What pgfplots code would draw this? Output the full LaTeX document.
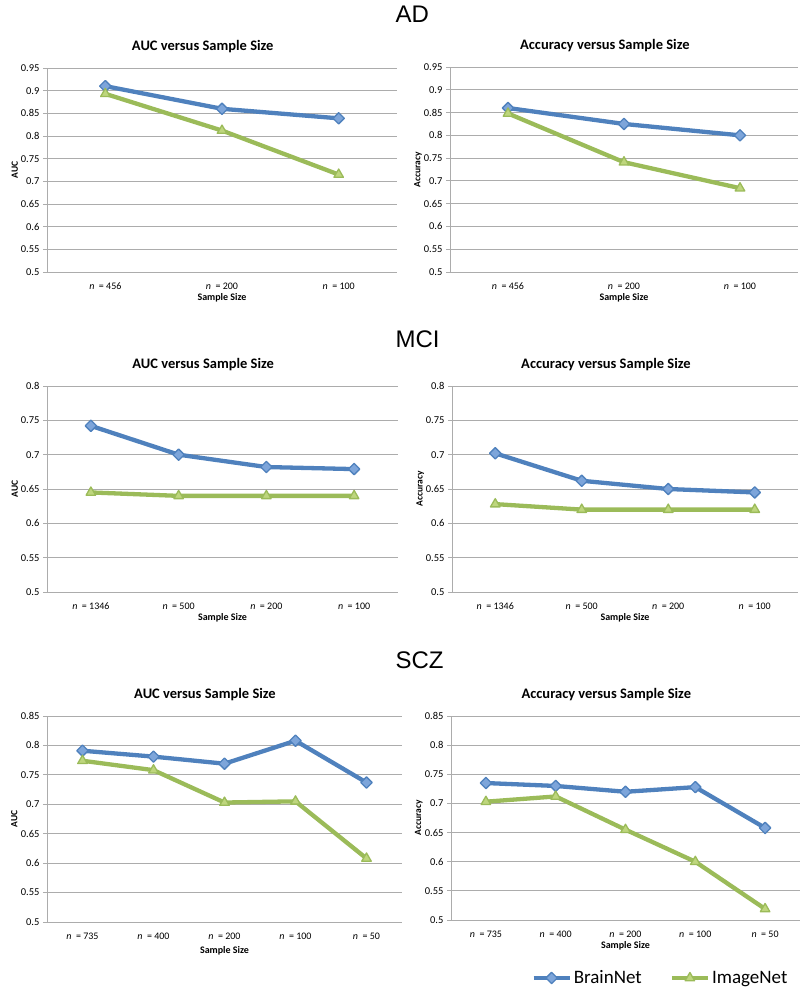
\documentclass[border=0pt]{standalone}
\usepackage{pgfplots}
\pgfplotsset{compat=1.18}
\usepackage{fontspec}
\setmainfont{Carlito}
\newfontfamily\arialfont{Liberation Sans}
\definecolor{bnblue}{RGB}{79,129,189}
\definecolor{bnfill}{RGB}{125,165,218}
\definecolor{ingreen}{RGB}{155,187,89}
\definecolor{infill}{RGB}{190,214,125}
\definecolor{gridgray}{RGB}{172,172,172}
\pgfplotsset{
  panel/.style={
    scale only axis, anchor=north west, clip=false,
    axis lines*=left,
    axis line style={draw=gridgray, line width=0.8pt},
    ymajorgrids, grid style={draw=gridgray, line width=0.8pt},
    ymin=0.5,
    tick align=outside, major tick length=4pt,
    ytick style={draw=gridgray, line width=0.8pt},
    xtick style={draw=none},
    /pgf/number format/assume math mode=true,
    yticklabel style={font=\fontsize{10.5}{12}\selectfont, /pgf/number format/fixed, /pgf/number format/precision=2},
    xticklabel style={font=\fontsize{10}{12}\selectfont, yshift=-3pt},
    title style={font=\bfseries\fontsize{14.5}{16}\selectfont, at={(axis description cs:0.445,1)}, anchor=base, yshift=12pt},
    xlabel style={font=\bfseries\fontsize{10}{12}\selectfont, at={(axis description cs:0.5,0)}, anchor=center, yshift=-26pt},
    ylabel style={font=\bfseries\fontsize{9.5}{11}\selectfont, at={(axis description cs:-0.092,0.5)}, anchor=center},
    xlabel={Sample Size},
    xtick=data,
  },
  bn/.style={color=bnblue, line width=4.3pt, line join=round, mark=square*, mark size=4pt, mark options={rotate=45, fill=bnfill, draw=bnblue, line width=1.3pt}},
  im/.style={color=ingreen, line width=4.3pt, line join=round, mark=triangle*, mark size=5.5pt, mark options={fill=infill, draw=ingreen, line width=1.3pt}},
}
\newcommand{\nn}[1]{\textit{n}\ \ =\ #1}
\begin{document}
\begin{tikzpicture}
\path[use as bounding box] (0pt,0pt) rectangle (800pt,-989pt);
\node[anchor=base west, font=\arialfont\fontsize{24}{28}\selectfont] at (392pt,-22pt) {AD};
\node[anchor=base west, font=\arialfont\fontsize{24}{28}\selectfont] at (392pt,-347pt) {MCI};
\node[anchor=base west, font=\arialfont\fontsize{24}{28}\selectfont] at (392pt,-668pt) {SCZ};

% AD AUC
\begin{axis}[panel, at={(47pt,-68pt)}, width=350pt, height=204pt,
  xmin=0.5, xmax=3.5, ymax=0.95,
  ytick={0.5,0.55,0.6,0.65,0.7,0.75,0.8,0.85,0.9,0.95},
  xticklabels={\nn{456}, \nn{200}, \nn{100}},
  title={AUC versus Sample Size}, ylabel={AUC}]
\addplot[bn] coordinates {(1,0.910) (2,0.860) (3,0.839)};
\addplot[im] coordinates {(1,0.893) (2,0.812) (3,0.715)};
\end{axis}

% AD Accuracy
\begin{axis}[panel, at={(450pt,-67pt)}, width=348pt, height=205pt,
  xmin=0.5, xmax=3.5, ymax=0.95,
  ytick={0.5,0.55,0.6,0.65,0.7,0.75,0.8,0.85,0.9,0.95},
  xticklabels={\nn{456}, \nn{200}, \nn{100}},
  title={Accuracy versus Sample Size}, ylabel={Accuracy}]
\addplot[bn] coordinates {(1,0.860) (2,0.825) (3,0.800)};
\addplot[im] coordinates {(1,0.848) (2,0.741) (3,0.684)};
\end{axis}

% MCI AUC
\begin{axis}[panel, at={(47pt,-386pt)}, width=351pt, height=206pt,
  xmin=0.5, xmax=4.5, ymax=0.8,
  ytick={0.5,0.55,0.6,0.65,0.7,0.75,0.8},
  xticklabels={\nn{1346}, \nn{500}, \nn{200}, \nn{100}},
  title={AUC versus Sample Size}, ylabel={AUC}]
\addplot[bn] coordinates {(1,0.742) (2,0.700) (3,0.682) (4,0.679)};
\addplot[im] coordinates {(1,0.645) (2,0.640) (3,0.640) (4,0.640)};
\end{axis}

% MCI Accuracy
\begin{axis}[panel, at={(452pt,-386pt)}, width=346pt, height=206pt,
  xmin=0.5, xmax=4.5, ymax=0.8,
  ytick={0.5,0.55,0.6,0.65,0.7,0.75,0.8},
  xticklabels={\nn{1346}, \nn{500}, \nn{200}, \nn{100}},
  title={Accuracy versus Sample Size}, ylabel={Accuracy}]
\addplot[bn] coordinates {(1,0.702) (2,0.662) (3,0.650) (4,0.645)};
\addplot[im] coordinates {(1,0.628) (2,0.620) (3,0.620) (4,0.620)};
\end{axis}

% SCZ AUC
\begin{axis}[panel, at={(47pt,-716pt)}, width=355pt, height=206pt,
  xmin=0.5, xmax=5.5, ymax=0.85,
  ytick={0.5,0.55,0.6,0.65,0.7,0.75,0.8,0.85},
  xticklabels={\nn{735}, \nn{400}, \nn{200}, \nn{100}, \nn{50}},
  title={AUC versus Sample Size}, ylabel={AUC}, xlabel style={yshift=-3pt}]
\addplot[bn] coordinates {(1,0.791) (2,0.781) (3,0.769) (4,0.808) (5,0.737)};
\addplot[im] coordinates {(1,0.774) (2,0.758) (3,0.703) (4,0.705) (5,0.608)};
\end{axis}

% SCZ Accuracy
\begin{axis}[panel, at={(451pt,-716pt)}, width=349pt, height=204pt,
  xmin=0.5, xmax=5.5, ymax=0.85,
  ytick={0.5,0.55,0.6,0.65,0.7,0.75,0.8,0.85},
  xticklabels={\nn{735}, \nn{400}, \nn{200}, \nn{100}, \nn{50}},
  title={Accuracy versus Sample Size}, ylabel={Accuracy},
  legend columns=2,
  legend style={draw=none, fill=none, font=\fontsize{19}{22}\selectfont,
    at={(axis description cs:0.60,-0.284)}, anchor=center,
    /tikz/every even column/.append style={column sep=26pt}},
  legend image code/.code={\draw[mark repeat=2,mark phase=2,#1] plot coordinates {(0pt,0pt) (18pt,0pt) (36pt,0pt)};}]
\addplot[bn] coordinates {(1,0.735) (2,0.730) (3,0.720) (4,0.728) (5,0.658)};
\addlegendentry{BrainNet}
\addplot[im] coordinates {(1,0.703) (2,0.712) (3,0.655) (4,0.600) (5,0.519)};
\addlegendentry{ImageNet}
\end{axis}
\end{tikzpicture}
\end{document}
